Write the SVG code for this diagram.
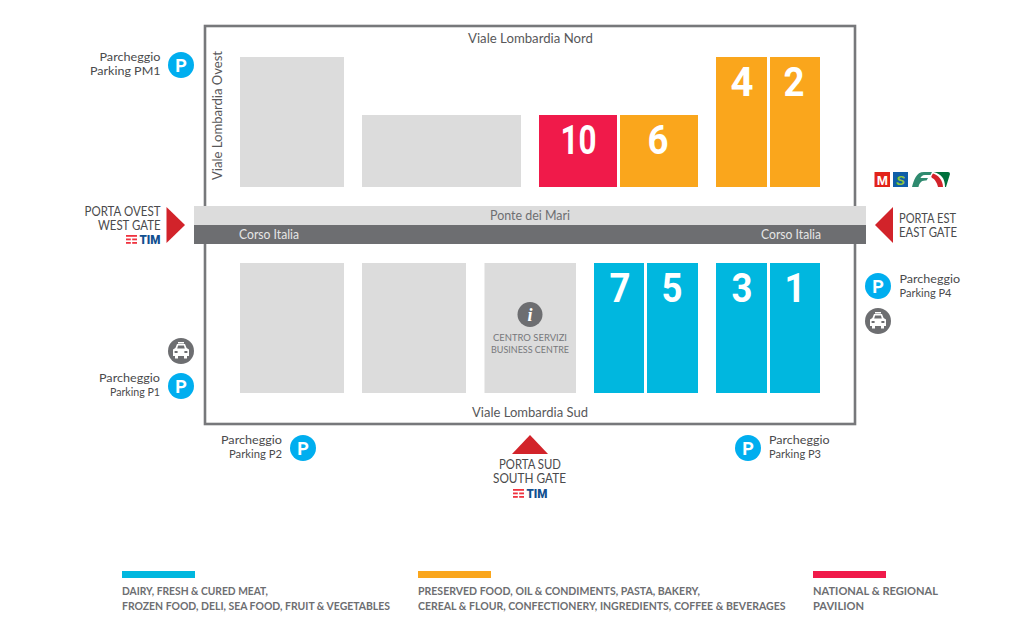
<svg xmlns="http://www.w3.org/2000/svg" width="1024" height="643" viewBox="0 0 1024 643">
<style>
text{font-family:"Lato","Open Sans","Liberation Sans",sans-serif;fill:#4a4a4c}
.grey{fill:#dcdcdc}.blue{fill:#00b7df}.orange{fill:#faa61c}.red{fill:#f01a4a}
.num{font-family:"Roboto","Liberation Sans",sans-serif;font-weight:700;font-size:40px;fill:#fff;text-anchor:middle}
.road{font-size:13px;text-anchor:middle;fill:#58585a}
.lab{font-size:12px}
.gate{font-size:13px}
.pc{fill:#00aeef}.pt{font-family:"Roboto","Liberation Sans",sans-serif;font-weight:700;font-size:18px;fill:#fff;text-anchor:middle}
.tc{fill:#6d6e71}.arrow{fill:#d2232a}
.tim{font-family:"Roboto","Liberation Sans",sans-serif;font-weight:900;font-size:13px;fill:#11508f}
.leg{font-size:11.5px;font-weight:700;fill:#6d6e71}
.cs{font-size:10px;fill:#77787b;text-anchor:middle}
</style>
<defs>
<g id="taxi"><circle r="13" class="tc"/><path d="M-5.6-3 L-4-7 H4 L5.6-3 L8-1.5 V5 H6 V7.5 H3 V5 H-3 V7.5 H-6 V5 H-8 V-1.5 Z M-3.8-2.6 H3.8 L2.9-5.4 H-2.9 Z M-6.4 0 V2 H-3.4 V0 Z M6.4 0 V2 H3.4 V0 Z" fill="#fff" fill-rule="evenodd"/><rect x="-3" y="-9" width="6" height="1.5" fill="#fff"/></g>
<g id="park"><circle r="13" class="pc"/><text class="pt" y="6.5">P</text></g>
<g id="timlogo"><g fill="#ef3340"><rect x="0" y="0" width="11" height="1.8"/><rect x="0" y="3.5" width="4.8" height="1.8"/><rect x="6.2" y="3.5" width="4.8" height="1.8"/><rect x="0" y="7" width="4.8" height="1.8"/><rect x="6.2" y="7" width="4.8" height="1.8"/></g><text class="tim" x="13.5" y="9.2" textLength="21" lengthAdjust="spacingAndGlyphs">TIM</text></g>
</defs>
<rect width="1024" height="643" fill="#fff"/>

<g id="perimeter"><rect x="205" y="26" width="650" height="398" fill="none" stroke="#77787b" stroke-width="2.6"/></g>

<g id="road-bridge">
<rect x="194" y="206" width="672" height="19" fill="#dcdcdc"/>
<rect x="194" y="225" width="672" height="19" fill="#6d6e71"/>
<text class="road" x="530" y="220" style="fill:#6d6e71" textLength="80" lengthAdjust="spacingAndGlyphs">Ponte dei Mari</text>
<text class="road" x="269" y="239" style="fill:#e6e6e6" textLength="60" lengthAdjust="spacingAndGlyphs">Corso Italia</text>
<text class="road" x="791" y="239" style="fill:#e6e6e6" textLength="60" lengthAdjust="spacingAndGlyphs">Corso Italia</text>
</g>

<g id="street-labels">
<text class="road" x="530.5" y="43" textLength="125" lengthAdjust="spacingAndGlyphs">Viale Lombardia Nord</text>
<text class="road" x="530" y="417" textLength="116" lengthAdjust="spacingAndGlyphs">Viale Lombardia Sud</text>
<text class="road" transform="translate(222 115.5) rotate(-90)" textLength="129" lengthAdjust="spacingAndGlyphs">Viale Lombardia Ovest</text>
</g>

<g id="hall-grey-1"><rect class="grey" x="240" y="57" width="104" height="130"/></g>
<g id="hall-grey-2"><rect class="grey" x="362" y="115" width="159" height="72"/></g>
<g id="hall-10"><rect class="red" x="539" y="115" width="78" height="72"/><text class="num" x="578.5" y="154" textLength="36" lengthAdjust="spacingAndGlyphs">10</text></g>
<g id="hall-6"><rect class="orange" x="620" y="115" width="78" height="72"/><text class="num" x="658" y="154" textLength="21" lengthAdjust="spacingAndGlyphs">6</text></g>
<g id="hall-4"><rect class="orange" x="716" y="57" width="51" height="130"/><text class="num" x="742" y="96" textLength="23" lengthAdjust="spacingAndGlyphs">4</text></g>
<g id="hall-2"><rect class="orange" x="770" y="57" width="50" height="130"/><text class="num" x="794" y="96" textLength="21" lengthAdjust="spacingAndGlyphs">2</text></g>

<g id="hall-grey-3"><rect class="grey" x="240" y="263" width="104" height="130"/></g>
<g id="hall-grey-4"><rect class="grey" x="362" y="263" width="104" height="130"/></g>
<g id="business-centre"><rect class="grey" x="484.5" y="263" width="91.5" height="130"/>
<circle cx="530" cy="314.5" r="12.5" class="tc"/>
<text x="530" y="321" style="font-family:'Liberation Serif',serif;font-style:italic;font-weight:700;font-size:18px;fill:#fff;text-anchor:middle">i</text>
<text class="cs" x="530" y="341" textLength="74" lengthAdjust="spacingAndGlyphs">CENTRO SERVIZI</text>
<text class="cs" x="530" y="353" textLength="78" lengthAdjust="spacingAndGlyphs">BUSINESS CENTRE</text></g>
<g id="hall-7"><rect class="blue" x="594" y="263" width="50" height="130"/><text class="num" x="620" y="302" textLength="21" lengthAdjust="spacingAndGlyphs">7</text></g>
<g id="hall-5"><rect class="blue" x="647" y="263" width="51" height="130"/><text class="num" x="672" y="302" textLength="21" lengthAdjust="spacingAndGlyphs">5</text></g>
<g id="hall-3"><rect class="blue" x="716" y="263" width="51" height="130"/><text class="num" x="742" y="302" textLength="21" lengthAdjust="spacingAndGlyphs">3</text></g>
<g id="hall-1"><rect class="blue" x="770" y="263" width="50" height="130"/><text class="num" x="795" y="302" textLength="21" lengthAdjust="spacingAndGlyphs">1</text></g>

<g id="parking-pm1"><use href="#park" x="181" y="65"/><text class="lab" x="99.500" y="61" textLength="61" lengthAdjust="spacingAndGlyphs">Parcheggio</text><text class="lab" x="90" y="75" textLength="70.500" lengthAdjust="spacingAndGlyphs">Parking PM1</text></g>
<g id="parking-p1"><use href="#park" x="181" y="386"/><text class="lab" x="99" y="382" textLength="61" lengthAdjust="spacingAndGlyphs">Parcheggio</text><text class="lab" x="110" y="396" textLength="50" lengthAdjust="spacingAndGlyphs">Parking P1</text></g>
<g id="taxi-west"><use href="#taxi" x="181" y="351"/></g>
<g id="parking-p2"><use href="#park" x="303" y="448"/><text class="lab" x="221" y="444" textLength="61" lengthAdjust="spacingAndGlyphs">Parcheggio</text><text class="lab" x="229" y="458" textLength="53" lengthAdjust="spacingAndGlyphs">Parking P2</text></g>
<g id="parking-p3"><use href="#park" x="748" y="448"/><text class="lab" x="769" y="444" textLength="60.500" lengthAdjust="spacingAndGlyphs">Parcheggio</text><text class="lab" x="769" y="458" textLength="52" lengthAdjust="spacingAndGlyphs">Parking P3</text></g>
<g id="parking-p4"><use href="#park" x="878" y="286"/><text class="lab" x="899.500" y="283" textLength="60.500" lengthAdjust="spacingAndGlyphs">Parcheggio</text><text class="lab" x="899.500" y="297" textLength="52" lengthAdjust="spacingAndGlyphs">Parking P4</text></g>
<g id="taxi-east"><use href="#taxi" x="878" y="321"/></g>

<g id="west-gate"><polygon class="arrow" points="166.500,207 185,225 166.500,243"/>
<text class="gate" x="84.500" y="216" textLength="76" lengthAdjust="spacingAndGlyphs">PORTA OVEST</text><text class="gate" x="98" y="230" textLength="62.500" lengthAdjust="spacingAndGlyphs">WEST GATE</text><use href="#timlogo" x="126" y="235"/></g>
<g id="east-gate"><polygon class="arrow" points="893,207 875,225 893,243"/>
<text class="gate" x="899" y="222.500" textLength="57" lengthAdjust="spacingAndGlyphs">PORTA EST</text><text class="gate" x="899" y="236.500" textLength="58" lengthAdjust="spacingAndGlyphs">EAST GATE</text></g>
<g id="south-gate"><polygon class="arrow" points="530,435 512,454 548,454"/>
<text class="gate" x="499" y="469" textLength="62" lengthAdjust="spacingAndGlyphs">PORTA SUD</text><text class="gate" x="493" y="483" textLength="73" lengthAdjust="spacingAndGlyphs">SOUTH GATE</text><use href="#timlogo" x="513" y="489"/></g>

<g id="transit-icons">
<rect x="874.500" y="172" width="15.500" height="15" fill="#e2231a"/>
<text x="882.300" y="184.500" style="font-family:'Liberation Sans',sans-serif;font-weight:700;font-size:13.500px;fill:#fff;text-anchor:middle">M</text>
<rect x="893" y="172" width="15" height="15" fill="#0f5ea8"/>
<text x="900.500" y="184.500" style="font-family:'Liberation Sans',sans-serif;font-weight:700;font-style:italic;font-size:13.500px;fill:#8dc63f;text-anchor:middle">S</text>
<path d="M912 187 C914 180 916 172 924 172 H932 L930.500 175 H925 C922 175 921 177 920.500 178 H928 L926.500 180.500 H926 C921 180 919 184 918.500 187 Z" fill="#2f8a6f"/>
<path d="M933.500 172 C941 174 945 178 945 187 H946 L950 174 Q950 172 948 172 Z" fill="#00703c"/>
<path d="M933 173.500 C938 175 943 180 943 187 H938 C937 183 935 179 932 178 Q930.500 177 932 175 Z" fill="#d2232a"/>
</g>

<g id="legend">
<rect x="122" y="571" width="73" height="7" fill="#00b7df"/>
<text class="leg" x="122" y="595" textLength="146" lengthAdjust="spacingAndGlyphs">DAIRY, FRESH &amp; CURED MEAT,</text>
<text class="leg" x="122" y="610" textLength="268" lengthAdjust="spacingAndGlyphs">FROZEN FOOD, DELI, SEA FOOD, FRUIT &amp; VEGETABLES</text>
<rect x="418" y="571" width="73" height="7" fill="#faa61c"/>
<text class="leg" x="418" y="595" textLength="282" lengthAdjust="spacingAndGlyphs">PRESERVED FOOD, OIL &amp; CONDIMENTS, PASTA, BAKERY,</text>
<text class="leg" transform="translate(418 610) scale(.915 1)">CEREAL &amp; FLOUR, CONFECTIONERY, INGREDIENTS, COFFEE &amp; BEVERAGES</text>
<rect x="813" y="571" width="73" height="7" fill="#f01a4a"/>
<text class="leg" x="813" y="595" textLength="125" lengthAdjust="spacingAndGlyphs">NATIONAL &amp; REGIONAL</text>
<text class="leg" x="813" y="610" textLength="51" lengthAdjust="spacingAndGlyphs">PAVILION</text>
</g>
</svg>
